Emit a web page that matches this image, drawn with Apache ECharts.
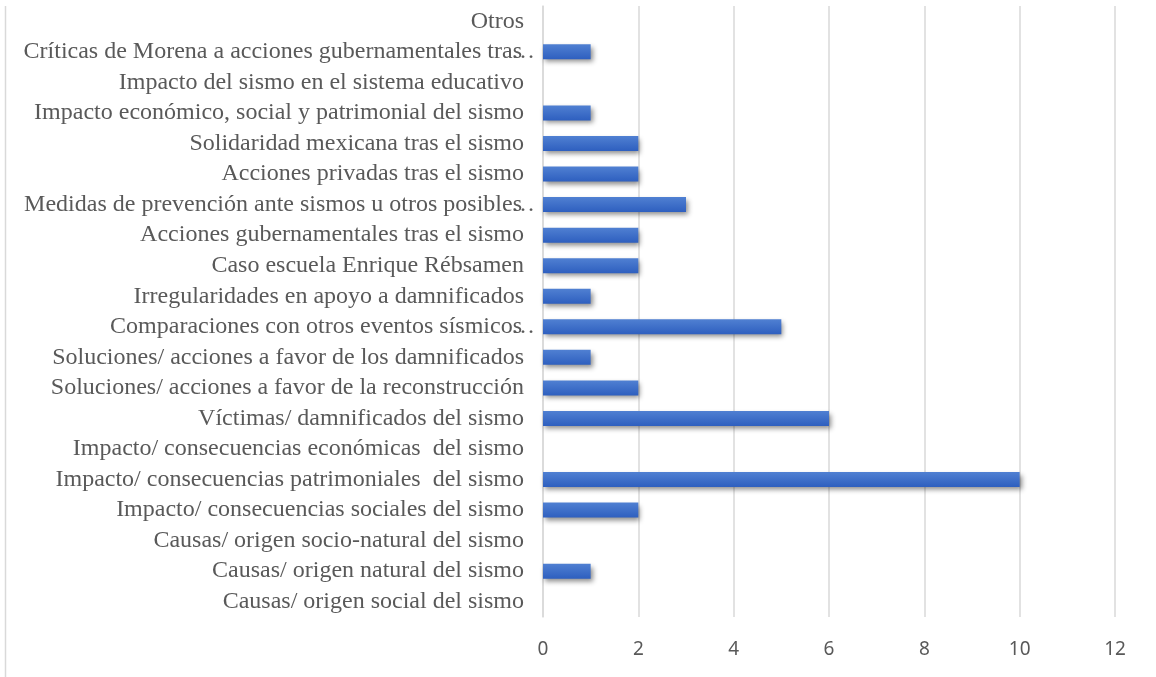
<!DOCTYPE html>
<html><head><meta charset="utf-8">
<script src="https://cdn.jsdelivr.net/npm/echarts@6/dist/echarts.min.js"></script>
<style>html,body{margin:0;padding:0;background:#fff}#c{width:1156px;height:677px}</style>
</head><body><div id="c"></div>
<script>
// categories listed bottom to top
const categories = [
  "Causas/ origen social del sismo",
  "Causas/ origen natural del sismo",
  "Causas/ origen socio-natural del sismo",
  "Impacto/ consecuencias sociales del sismo",
  "Impacto/ consecuencias patrimoniales  del sismo",
  "Impacto/ consecuencias económicas  del sismo",
  "Víctimas/ damnificados del sismo",
  "Soluciones/ acciones a favor de la reconstrucción",
  "Soluciones/ acciones a favor de los damnificados",
  "Comparaciones con otros eventos sísmicos…",
  "Irregularidades en apoyo a damnificados",
  "Caso escuela Enrique Rébsamen",
  "Acciones gubernamentales tras el sismo",
  "Medidas de prevención ante sismos u otros posibles…",
  "Acciones privadas tras el sismo",
  "Solidaridad mexicana tras el sismo",
  "Impacto económico, social y patrimonial del sismo",
  "Impacto del sismo en el sistema educativo",
  "Críticas de Morena a acciones gubernamentales tras…",
  "Otros"
];
const values = [0,1,0,2,10,0,6,2,1,5,1,2,2,3,2,2,1,0,1,0];
const xTicks = [0,2,4,6,8,10,12];

const serif = 'Liberation Serif, Times New Roman, serif';
const chart = echarts.init(document.getElementById('c'), null, {renderer:'canvas'});
chart.setOption({
  animation:false,
  backgroundColor:'#fff',
  grid:{left:543,right:41,top:6,bottom:60,containLabel:false},
  xAxis:{type:'value',min:xTicks[0],max:xTicks[xTicks.length-1],interval:2,
    axisLine:{show:false},axisTick:{show:false},
    axisLabel:{color:'#595959',fontSize:19,fontFamily:'Noto Sans, Liberation Sans, sans-serif',margin:23},
    splitLine:{show:true,lineStyle:{color:'#d9d9d9',width:1.5}}},
  yAxis:{type:'category',data:categories,
    axisLine:{show:true,lineStyle:{color:'#d9d9d9',width:1.5}},axisTick:{show:false},
    axisLabel:{color:'#595959',fontSize:24,fontFamily:serif,margin:19,interval:0,
      formatter:function(v){
        if (v.endsWith('…')) return '{t|' + v.slice(0,-1) + '}{e|…}';
        return '{t|' + v + '}';
      },
      rich:{
        t:{color:'#595959',fontSize:24,fontFamily:serif},
        e:{color:'#595959',fontSize:24,fontFamily:serif,width:2,align:'left'}
      }}},
  graphic:[{type:'line',shape:{x1:5.5,y1:6,x2:5.5,y2:677},style:{stroke:'#d9d9d9',lineWidth:1.5}}],
  series:[{type:'bar',data:values,barWidth:15,
    itemStyle:{color:new echarts.graphic.LinearGradient(0,0,0,1,[{offset:0,color:'#5080d2'},{offset:1,color:'#2e5fbf'}]),
      shadowColor:'rgba(0,0,0,0.45)',shadowBlur:5,shadowOffsetX:2,shadowOffsetY:3}}]
});
</script></body></html>
